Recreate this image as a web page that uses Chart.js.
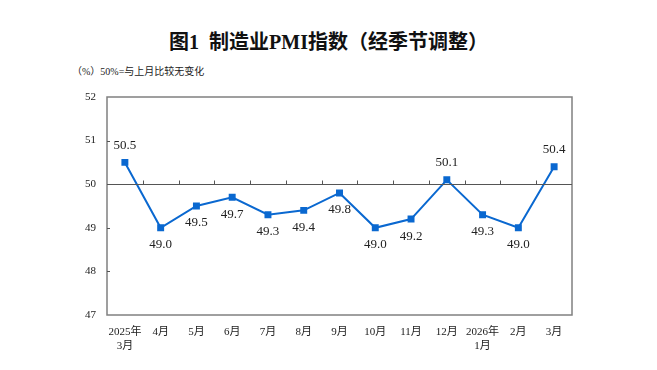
<!DOCTYPE html>
<html>
<head>
<meta charset="utf-8">
<script src="https://cdn.jsdelivr.net/npm/chart.js@4"></script>
<style>
  html, body { margin: 0; padding: 0; background: #fff; }
  #wrap { position: relative; width: 657px; height: 370px; }
  #title {
    position: absolute; left: 0; top: 28px; width: 657px; text-align: center;
    font-family: "Liberation Serif", "Noto Sans CJK SC", serif;
    font-size: 20px; font-weight: bold; color: #111; line-height: 28px;
  }
  #unit {
    position: absolute; left: 72px; top: 65px;
    font-family: "Liberation Serif", "Noto Sans CJK SC", serif;
    font-size: 10px; color: #222; line-height: 14px;
  }
  canvas { position: absolute; left: 0; top: 0; }
</style>
</head>
<body>
<div id="wrap">
  <div id="title">图1&nbsp; 制造业PMI指数（经季节调整）</div>
  <div id="unit">（%）50%=与上月比较无变化</div>
  <canvas id="pmiChart" width="657" height="370"></canvas>
</div>
<script>
  // ===== DATA =====
  const monthLabels = [['2025年', '3月'], '4月', '5月', '6月', '7月', '8月', '9月',
    '10月', '11月', '12月', ['2026年', '1月'], '2月', '3月'];
  const pmiValues = [50.5, 49.0, 49.5, 49.7, 49.3, 49.4, 49.8, 49.0, 49.2, 50.1, 49.3, 49.0, 50.4];
  const yTicks = [47, 48, 49, 50, 51, 52];
  const baseLine = 50;

  const serif = '"Liberation Serif", "Noto Sans CJK SC", serif';

  // khung + đường 50 + vạch chia
  const framePlugin = {
    id: 'frame',
    afterDraw(chart) {
      const ctx = chart.ctx;
      const a = chart.chartArea;
      const x = chart.scales.x, y = chart.scales.y;
      ctx.save();
      ctx.strokeStyle = '#808080';
      ctx.lineWidth = 1.5;
      ctx.strokeRect(a.left, a.top, a.right - a.left, a.bottom - a.top);

      const y50 = Math.round(y.getPixelForValue(baseLine)) + 0.5;
      ctx.lineWidth = 1;
      ctx.strokeStyle = '#555';
      ctx.beginPath();
      ctx.moveTo(a.left, y50);
      ctx.lineTo(a.right, y50);
      for (let i = 1; i < monthLabels.length; i++) {
        const px = Math.round((x.getPixelForValue(i - 1) + x.getPixelForValue(i)) / 2) + 0.5;
        ctx.moveTo(px, y50);
        ctx.lineTo(px, y50 - 4);
      }
      // inner ticks on y axis
      yTicks.forEach(function (v) {
        if (v === yTicks[0] || v === yTicks[yTicks.length - 1]) return;
        const py = Math.round(y.getPixelForValue(v)) + 0.5;
        ctx.moveTo(a.left, py);
        ctx.lineTo(a.left + 3, py);
      });
      ctx.stroke();
      ctx.restore();
    }
  };

  // nhãn giá trị
  const valueLabelPlugin = {
    id: 'valueLabels',
    afterDatasetsDraw(chart) {
      const ctx = chart.ctx;
      const meta = chart.getDatasetMeta(0);
      ctx.save();
      ctx.font = '13px ' + serif;
      ctx.fillStyle = '#222';
      ctx.textAlign = 'center';
      ctx.textBaseline = 'middle';
      meta.data.forEach(function (pt, i) {
        const v = pmiValues[i];
        const dy = v > baseLine ? -17 : 17;
        ctx.fillText(v.toFixed(1), pt.x, pt.y + dy);
      });
      ctx.restore();
    }
  };

  new Chart(document.getElementById('pmiChart'), {
    type: 'line',
    data: {
      labels: monthLabels,
      datasets: [{
        data: pmiValues,
        borderColor: '#0a68d0',
        backgroundColor: '#0a68d0',
        borderWidth: 2,
        tension: 0,
        pointStyle: 'rect',
        pointRadius: 3.5,
        pointHoverRadius: 3.5
      }]
    },
    options: {
      responsive: false,
      animation: false,
      events: [],
      layout: { padding: { top: 97, right: 85, bottom: 0, left: 0 } },
      plugins: { legend: { display: false }, tooltip: { enabled: false } },
      scales: {
        x: {
          offset: true,
          grid: { display: false, drawTicks: false },
          border: { display: false },
          ticks: {
            padding: 11,
            color: '#222',
            maxRotation: 0,
            autoSkip: false,
            font: { family: serif, size: 11, lineHeight: 1.2 }
          },
          afterFit: function (s) { s.height = 55; }
        },
        y: {
          min: 47,
          max: 52,
          grid: { display: false, drawTicks: false },
          border: { display: false },
          afterBuildTicks: function (s) { s.ticks = yTicks.map(function (v) { return { value: v }; }); },
          ticks: {
            padding: 11,
            color: '#222',
            font: { family: serif, size: 11 }
          },
          afterFit: function (s) { s.width = 107; }
        }
      }
    },
    plugins: [framePlugin, valueLabelPlugin]
  });
</script>
</body>
</html>
